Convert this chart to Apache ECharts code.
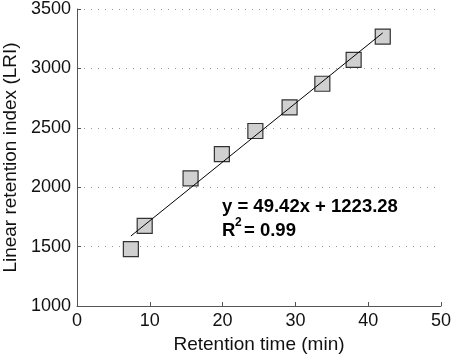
<!DOCTYPE html>
<html><head><meta charset="utf-8">
<script src="https://cdn.jsdelivr.net/npm/echarts@6/dist/echarts.min.js"></script>
<style>html,body{margin:0;padding:0;background:#fff}#c{width:454px;height:359px}</style>
</head><body><div id="c"></div>
<script>
var retentionTime = [7.4, 9.3, 15.6, 19.9, 24.5, 29.2, 33.7, 38.0, 42.0];
var lri = [1478, 1674, 2075, 2279, 2473, 2672, 2871, 3071, 3268];
var fitX = [7.4, 42.0];
var fitY = [1589, 3299];
var xTicks = [0, 10, 20, 30, 40, 50];
var yTicks = [1000, 1500, 2000, 2500, 3000, 3500];
var eqText = 'y = 49.42x + 1223.28';
var r2Text = '= 0.99';

var chart = echarts.init(document.getElementById('c'), null, {renderer: 'canvas'});
var font = 'Liberation Sans, Arial, Helvetica, sans-serif';
chart.setOption({
  animation: false,
  grid: {left: 77, right: 13, top: 9, bottom: 53, containLabel: false, outerBoundsMode: 'none'},
  xAxis: {
    type: 'value', min: xTicks[0], max: xTicks[xTicks.length-1], interval: 10,
    name: 'Retention time (min)', nameLocation: 'middle', nameGap: 29,
    nameTextStyle: {fontFamily: font, fontSize: 19, color: '#111'},
    axisLine: {lineStyle: {color: '#555', width: 1}},
    axisTick: {inside: true, length: 4, lineStyle: {color: '#555'}},
    axisLabel: {fontFamily: font, fontSize: 18, color: '#111', margin: 6},
    splitLine: {show: false}
  },
  yAxis: {
    type: 'value', min: yTicks[0], max: yTicks[yTicks.length-1], interval: 500,
    name: 'Linear retention index (LRI)', nameLocation: 'middle', nameGap: 51,
    nameTextStyle: {fontFamily: font, fontSize: 19, color: '#111'},
    axisLine: {show: true, lineStyle: {color: '#555', width: 1}},
    axisTick: {show: true, inside: true, length: 4, lineStyle: {color: '#555'}},
    axisLabel: {fontFamily: font, fontSize: 18, color: '#111', margin: 6,
      formatter: function(v){return String(v);}},
    splitLine: {show: true, lineStyle: {color: '#999', type: [1, 6], width: 1}}
  },
  series: [
    {
      type: 'line', data: fitX.map(function(x, i){return [x, fitY[i]];}),
      symbol: 'none', lineStyle: {color: '#000', width: 1}, z: 3
    },
    {
      type: 'scatter', data: retentionTime.map(function(x, i){return [x, lri[i]];}),
      symbol: 'rect', symbolSize: 15,
      itemStyle: {color: '#d0d0d0', borderColor: '#333', borderWidth: 1.2, opacity: 1}, z: 2
    }
  ],
  graphic: [
    {type: 'text', x: 222, y: 207, style: {text: eqText, font: 'bold 18.5px ' + font, fill: '#000', verticalAlign: 'middle'}},
    {type: 'text', x: 222, y: 231, style: {text: 'R', font: 'bold 18.5px ' + font, fill: '#000', verticalAlign: 'middle'}},
    {type: 'text', x: 235, y: 223, style: {text: '2', font: 'bold 12px ' + font, fill: '#000', verticalAlign: 'middle'}},
    {type: 'text', x: 244, y: 231, style: {text: r2Text, font: 'bold 18.5px ' + font, fill: '#000', verticalAlign: 'middle'}}
  ]
});
</script>
</body></html>
